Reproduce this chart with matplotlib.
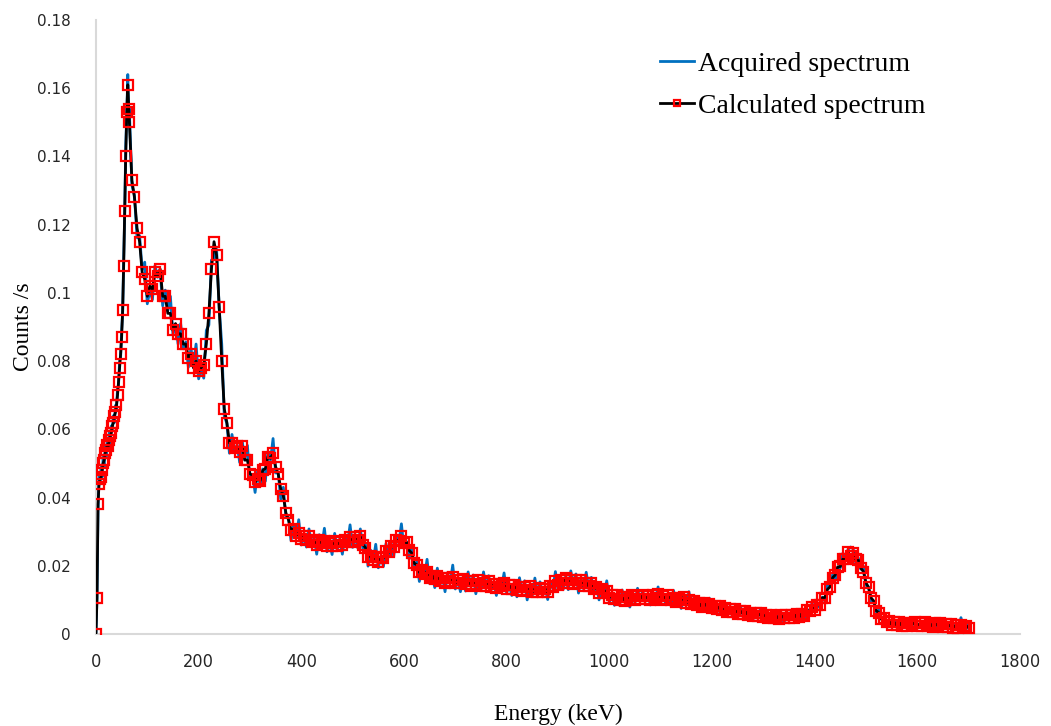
import matplotlib.pyplot as plt
import numpy as np

# -------------------------
# Data (counts/s in units of 1e-3)
# -------------------------
# energy grid: 0-64 keV every 2 keV, then 65-1700 keV every 5 keV
energy = np.concatenate([np.arange(0, 65, 2), np.arange(65, 1701, 5)])

calc_low = [0, 10.5, 38, 44, 45.5, 46, 48, 50, 51, 53, 54, 55.5, 55, 57, 58, 59, 61,
            62, 64, 65, 67, 70, 74, 78, 82, 87, 95, 108, 124, 140, 153, 161, 154]
acq_low = [0, 11, 36, 47, 44, 49, 46, 52, 49, 55, 52, 57, 54, 59, 56, 61, 60,
           64, 62, 67, 66, 72, 73, 80, 81, 89, 94, 110, 123, 143, 152, 164, 150]

calc_high = [
    150, 133, 128, 119, 115, 106, 104, 99, 102, 101,
    106, 105, 107, 99, 99, 94, 94, 89, 91, 88,
    88, 85, 85, 81, 82, 78, 80, 77, 78, 79,
    85, 94, 107, 115, 111, 96, 80, 66, 62, 56,
    56, 54.5, 55, 53.5, 55, 51, 51, 47, 46.5, 44.5,
    45.5, 45, 48, 48.5, 52, 51.5, 53, 49, 47, 42.5,
    40.5, 35.5, 33.5, 30.5, 30.8, 28.8, 29.6, 27.9, 28.6, 27.7,
    28.6, 26.9, 27.6, 26.1, 27.5, 26.6, 27.4, 25.8, 26.7, 25.8,
    27.3, 25.9, 27, 26.1, 27.5, 27.1, 28.4, 27.1, 28.4, 27.7,
    28.6, 26.2, 25.3, 22.6, 23, 21.8, 22.7, 21.1, 22.6, 22.3,
    24.3, 23.9, 25.8, 25.4, 27.5, 27.3, 28.7, 26.8, 26.9, 24.5,
    23.8, 20.7, 20.3, 18.1, 18.8, 17.6, 18.3, 16.5, 17.1, 16.1,
    17.1, 15.6, 16.3, 15.1, 16.4, 15.6, 16.6, 14.9, 15.9, 14.9,
    16.1, 14.7, 15.5, 14.2, 15.5, 14.8, 15.8, 14.1, 15.1, 14.2,
    15.4, 13.9, 14.7, 13.4, 14.8, 14, 15, 13.3, 14.3, 13.3,
    14.5, 13, 13.8, 12.5, 13.8, 13, 14, 12.3, 13.3, 12.4,
    13.6, 12.2, 13.2, 12.2, 14, 13.8, 15.4, 14.3, 15.7, 15,
    16.4, 15.1, 15.8, 14.6, 15.8, 15, 15.9, 14.2, 15, 14,
    14.9, 13.2, 13.7, 12.1, 13.1, 12, 12.7, 10.7, 11.5, 10.4,
    11.5, 10, 10.8, 9.6, 10.9, 10.3, 11.3, 9.9, 11, 10.2,
    11.5, 10.2, 11.1, 10, 11.3, 10.7, 11.7, 10.1, 11.1, 10.3,
    11.4, 9.9, 10.7, 9.5, 10.7, 9.9, 10.9, 9.1, 10, 8.9,
    9.8, 8.5, 9.1, 8, 9, 8.2, 8.9, 7.5, 8.2, 7.4,
    8.1, 6.9, 7.5, 6.5, 7.4, 6.6, 7.4, 6, 6.8, 6,
    6.7, 5.5, 6.2, 5.2, 6.2, 5.4, 6.2, 5, 5.7, 4.8,
    5.7, 4.7, 5.3, 4.4, 5.5, 4.8, 5.7, 4.6, 5.5, 4.8,
    5.9, 5, 6, 5.3, 6.9, 6.7, 7.9, 7, 8.6, 8.5,
    10.6, 10.7, 13.1, 13.8, 16.5, 17.3, 19.7, 19.8, 22, 22.1,
    23.9, 23, 23.7, 21.9, 21.7, 19.3, 18.3, 15, 13.7, 10.6,
    9.7, 6.8, 6.3, 4.3, 4.7, 3.5, 3.8, 2.7, 3.4, 2.5,
    3.5, 2.4, 3.2, 2.3, 3.3, 2.7, 3.5, 2.3, 3.1, 2.4,
    3.4, 2.3, 3, 2.2, 3.1, 2.5, 3.1, 2.1, 2.8, 2.1,
    2.9, 1.9, 2.6, 1.8, 2.6, 2.0, 2.4, 1.9,
]

acq_high = [
    154, 131.6, 128.6, 116.2, 116.8, 106.8, 109, 96.8, 100.8, 98,
    108, 104.6, 106.6, 96.2, 100.8, 94.8, 99, 87.8, 90.8, 85,
    91, 83.6, 85.6, 78.2, 83.8, 78.8, 85, 74.8, 77.8, 75,
    89, 90.6, 109.6, 110.2, 112.8, 95.8, 85, 63.8, 61.8, 53,
    58.5, 53.4, 55.4, 50.3, 56.5, 51, 55.3, 45.2, 46.7, 41.5,
    48, 43.4, 48.4, 44.8, 53.5, 51, 57.3, 47.2, 47.2, 39.5,
    43, 34.2, 34.2, 27.4, 32.1, 28.6, 33.5, 26.1, 28.6, 25.5,
    30.8, 25.7, 28.5, 23.4, 29.1, 25.9, 31, 24.1, 26.9, 23.3,
    29.5, 24.7, 27.9, 23.4, 29.1, 26.4, 32, 25.4, 28.6, 25.2,
    30.8, 25, 26.2, 19.9, 24.6, 21.1, 26.3, 19.4, 22.8, 19.8,
    26.5, 22.7, 26.7, 22.7, 29.1, 26.6, 32.3, 25.1, 27.1, 22,
    26, 19.5, 21.2, 15.4, 20.4, 16.9, 21.9, 14.8, 17.3, 13.6,
    19.3, 14.4, 17.2, 12.4, 18, 14.9, 20.2, 13.2, 16.1, 12.4,
    16.6, 12.6, 18.2, 14.1, 17.3, 11.8, 15.7, 13.1, 18.2, 13.5,
    17.1, 13, 15.4, 11.3, 16, 13.5, 17.9, 12, 14.4, 11.3,
    15, 10.9, 16.5, 12.4, 15.6, 10, 13.9, 11.3, 16.4, 11.7,
    15.3, 11.3, 13.9, 10.1, 15.3, 13.3, 18.3, 13, 15.8, 13,
    16.9, 13, 18.5, 14.5, 17.6, 12, 15.8, 13.2, 18.1, 13.3,
    16.6, 12.3, 14.4, 10, 14.4, 11.5, 15.6, 9.4, 11.6, 8.4,
    11.7, 8.4, 12.9, 9.7, 12.2, 7.9, 11, 9.2, 13.4, 9.7,
    12.7, 9.6, 11.6, 8.5, 12.2, 10.3, 13.8, 9.2, 11.1, 8.8,
    11.6, 8.3, 12.8, 9.6, 12, 7.5, 10.6, 8.4, 12.4, 8.4,
    10.7, 8.1, 9.4, 6.9, 9.6, 8, 10.5, 6.8, 8.1, 6.3,
    8.2, 6, 8.8, 6.7, 8.1, 5.1, 7.1, 5.6, 8.2, 5.8,
    7.4, 5.2, 6.4, 4.3, 6.6, 5.2, 7.5, 4.5, 5.6, 3.9,
    5.8, 3.8, 6.6, 4.6, 6.2, 3.3, 5.4, 4.2, 6.9, 4.6,
    6.6, 4.7, 6.2, 4.4, 7.3, 6.5, 9.2, 6.5, 8.5, 7.7,
    10.8, 9.6, 14.6, 13.9, 17.4, 15.6, 19.5, 19.4, 23.7, 21.9,
    24.8, 25.5, 25, 20.8, 22.3, 19, 19.9, 14.3, 13.6, 9.6,
    9.5, 6.5, 7, 4.6, 4.9, 2.7, 3.5, 2.5, 4.1, 2.5,
    3.7, 2.4, 3.2, 1.9, 3.5, 2.7, 4.1, 2.2, 3, 2,
    3.2, 1.8, 3.7, 2.4, 3.3, 1.6, 2.7, 1.9, 3.6, 2,
    3.2, 1.8, 2.6, 1.2, 4.8, 1.9, 3.3, 1.5,
]

acquired = np.array(acq_low + acq_high) / 1000
calculated = np.array(calc_low + calc_high) / 1000

# -------------------------
# Plot
# -------------------------
fig = plt.figure(figsize=(10.51, 7.26), dpi=100)
ax = fig.add_axes([0.0913, 0.1267, 0.8792, 0.8458])

ax.plot(energy, acquired, color="#0070C0", lw=2, label="Acquired spectrum", zorder=2)
ax.plot(energy, calculated, color="black", lw=2, marker="s", ms=7,
        mfc="none", mec="red", mew=1.6, label="Calculated spectrum", zorder=3)

ax.set_xlim(0, 1800)
ax.set_ylim(0, 0.18)
ax.set_xticks(np.arange(0, 1801, 200))
ax.set_yticks(np.arange(0, 0.181, 0.02))
ax.set_yticklabels(["0", "0.02", "0.04", "0.06", "0.08", "0.1", "0.12", "0.14", "0.16", "0.18"])

for s in ["top", "right"]:
    ax.spines[s].set_visible(False)
for s in ["left", "bottom"]:
    ax.spines[s].set_color("#D9D9D9")
    ax.spines[s].set_linewidth(1.5)

ax.tick_params(axis="both", length=0)
ax.tick_params(axis="y", pad=18, labelsize=11, labelcolor="#262626")
ax.tick_params(axis="x", pad=14, labelsize=13, labelcolor="#262626")
for lab in ax.get_xticklabels():
    lab.set_family(["Liberation Sans Narrow", "DejaVu Sans"])
    lab.set_stretch("condensed")

ax.set_xlabel("Energy (keV)", family="Liberation Serif", fontsize=17, labelpad=23)
ax.set_ylabel("Counts /s", family="Liberation Serif", fontsize=17, labelpad=2)

ax.legend(loc="upper left", bbox_to_anchor=(0.615, 0.948), bbox_transform=fig.transFigure,
          frameon=False, prop={"family": "Liberation Serif", "size": 20},
          handlelength=1.2, handletextpad=0.15, labelspacing=0.6, borderpad=0,
          markerscale=0.7)

plt.savefig("out.png", dpi=100)
